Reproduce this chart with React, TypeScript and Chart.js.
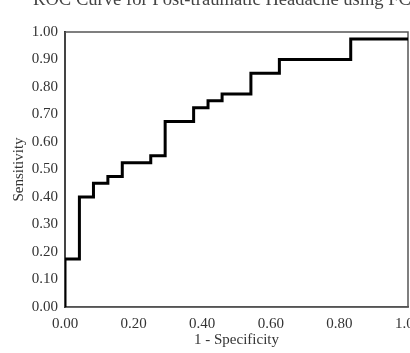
import React, { useEffect, useRef } from "react";
import { Chart, registerables } from "chart.js";

Chart.register(...registerables);

const TITLE = "ROC Curve for Post-traumatic Headache using FC";
const X_LABEL = "1 - Specificity";
const Y_LABEL = "Sensitivity";
// ROC corner points (1 - specificity, sensitivity)
const fpr = [0, 0, 0.042, 0.083, 0.125, 0.167, 0.25, 0.292, 0.375, 0.417, 0.458, 0.542, 0.625, 0.833, 1.0];
const tpr = [0, 0.175, 0.4, 0.45, 0.475, 0.525, 0.55, 0.675, 0.725, 0.75, 0.775, 0.85, 0.9, 0.975, 0.975];
const xTickStep = 0.2;
const yTickStep = 0.1;

const FONT = '"Liberation Serif", "Times New Roman", serif';

const titlePlugin = {
  id: "clippedTitle",
  afterDraw(chart: any) {
    const ctx = chart.ctx;
    ctx.save();
    ctx.font = `18.6px ${FONT}`;
    ctx.fillStyle = "#444";
    ctx.textAlign = "left";
    ctx.textBaseline = "alphabetic";
    ctx.fillText(TITLE, 33, 5);
    ctx.restore();
  },
};

const areaBorderPlugin = {
  id: "areaBorder",
  beforeDatasetsDraw(chart: any) {
    const { ctx, chartArea } = chart;
    ctx.save();
    ctx.strokeStyle = "#555";
    ctx.lineWidth = 1.5;
    ctx.strokeRect(chartArea.left, chartArea.top, chartArea.right - chartArea.left, chartArea.bottom - chartArea.top);
    ctx.restore();
  },
};

export default function App() {
  const ref = useRef<HTMLCanvasElement | null>(null);

  useEffect(() => {
    if (!ref.current) return;
    const points = fpr.map((x, i) => ({ x, y: tpr[i] }));
    const chart = new Chart(ref.current, {
      type: "line",
      data: {
        datasets: [
          {
            data: points,
            borderColor: "#000",
            borderWidth: 3,
            stepped: "before",
            pointRadius: 0,
            fill: false,
            borderJoinStyle: "miter",
          } as any,
        ],
      },
      options: {
        animation: false,
        responsive: false,
        events: [],
        layout: { padding: { top: 32, left: 0, right: 2, bottom: 0 } },
        plugins: {
          legend: { display: false },
          tooltip: { enabled: false },
          title: { display: false },
        },
        scales: {
          x: {
            type: "linear",
            min: 0,
            max: 1,
            grid: { display: false, drawTicks: false },
            border: { display: true, color: "#555", width: 1.5 },
            ticks: {
              stepSize: xTickStep,
              padding: 8,
              color: "#333",
              font: { family: FONT, size: 15 },
              maxRotation: 0,
              autoSkip: false,
              callback: (v: any) => Number(v).toFixed(2),
            },
            title: {
              display: true,
              text: X_LABEL,
              color: "#333",
              font: { family: FONT, size: 15 },
              padding: { top: 0, bottom: 4 },
            },
            afterFit: (s: any) => {
              s.height = 46;
              s.paddingLeft = 0;
              s.paddingRight = 0;
            },
          },
          y: {
            type: "linear",
            min: 0,
            max: 1,
            grid: { display: false, drawTicks: false },
            border: { display: true, color: "#111", width: 2 },
            ticks: {
              stepSize: yTickStep,
              padding: 7,
              color: "#333",
              font: { family: FONT, size: 15 },
              autoSkip: false,
              callback: (v: any) => Number(v).toFixed(2),
            },
            title: {
              display: true,
              text: Y_LABEL,
              color: "#333",
              font: { family: FONT, size: 15 },
              padding: { top: 10, bottom: 0 },
            },
            afterFit: (s: any) => {
              s.width = 65;
              s.paddingTop = 0;
              s.paddingBottom = 0;
            },
          },
        },
      },
      plugins: [areaBorderPlugin, titlePlugin],
    });
    return () => chart.destroy();
  }, []);

  return (
    <div style={{ position: "fixed", left: 0, top: 0, width: 410, height: 353, background: "#fff" }}>
      <canvas ref={ref} width={410} height={353} style={{ width: 410, height: 353, display: "block" }} />
    </div>
  );
}
